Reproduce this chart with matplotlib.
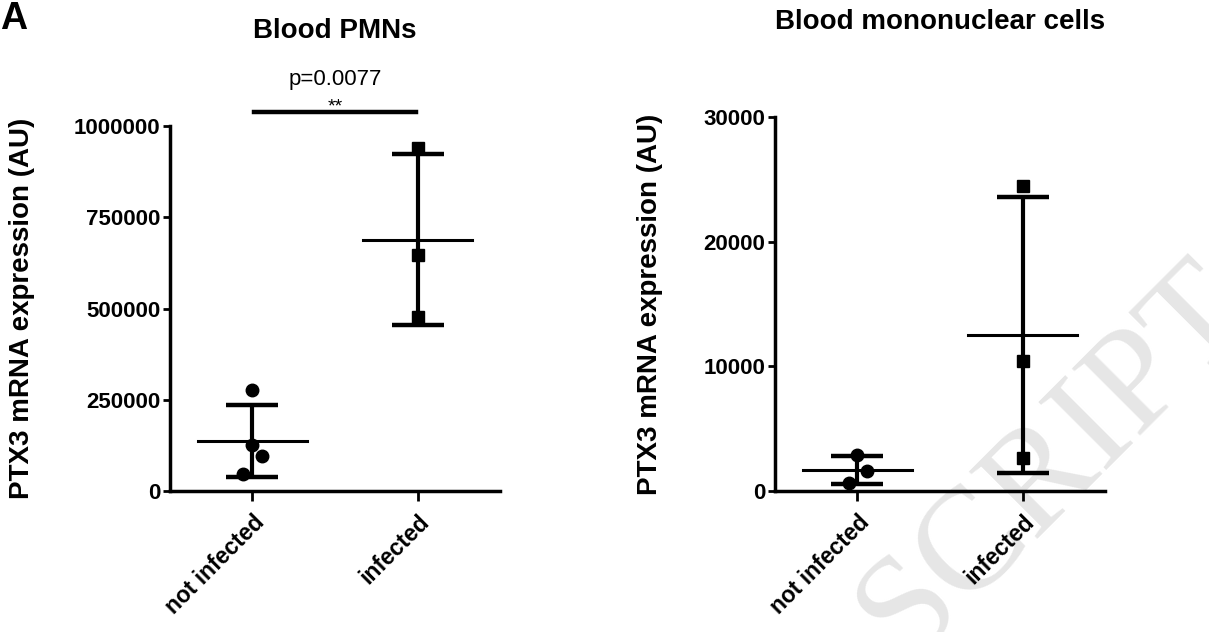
import matplotlib.pyplot as plt
import numpy as np

plt.rcParams['font.family'] = ['Liberation Sans', 'DejaVu Sans']

# Data
groups = ['not infected', 'infected']
pmn_not_infected = [277000, 126000, 96000, 47000]
pmn_infected = [940000, 647000, 477000]
mono_not_infected = [2850, 1620, 620]
mono_infected = [24500, 10400, 2680]

# small horizontal scatter of points (as in the original scatter plot)
pmn_jitter = [[0.0, 0.0, 0.055, -0.055], [0.0, 0.0, 0.0]]
mono_jitter = [[0.0, 0.055, -0.05], [0.0, 0.0, 0.0]]

pmn_ticks = [0, 250000, 500000, 750000, 1000000]
mono_ticks = [0, 10000, 20000, 30000]

fig = plt.figure(figsize=(12.09, 6.32), dpi=100)


def scatter_panel(ax, data, jitter, ticks, markers):
    for i, (vals, jit, m) in enumerate(zip(data, jitter, markers)):
        vals = np.array(vals)
        mean = vals.mean()
        sd = vals.std(ddof=1)
        ax.plot(i + np.array(jit), vals, linestyle='none', marker=m,
                markersize=9, color='black', zorder=3)
        # mean line
        ax.plot([i - 0.33, i + 0.33], [mean, mean], color='black', lw=2.2, zorder=2)
        # SD bar
        ax.errorbar(i, mean, yerr=sd, fmt='none', ecolor='black', elinewidth=3,
                    capsize=19, capthick=3.2, zorder=2)
    ax.set_facecolor('none')
    ax.set_xlim(-0.5, 1.5)
    ax.set_ylim(0, ticks[-1])
    ax.set_yticks(ticks)
    ax.set_yticklabels([str(t) for t in ticks], fontsize=16, fontweight='bold')
    ax.set_xticks([0, 1])
    ax.set_xticklabels(groups, rotation=45, ha='right', rotation_mode='anchor',
                       fontsize=16.5, fontweight='bold')
    for s in ['top', 'right']:
        ax.spines[s].set_visible(False)
    for s in ['left', 'bottom']:
        ax.spines[s].set_linewidth(2.5)
    ax.tick_params(axis='y', length=5, width=2, pad=2)
    ax.tick_params(axis='x', length=7, width=2, pad=7)
    ax.set_ylabel('PTX3 mRNA expression (AU)', fontsize=20, fontweight='bold')


# watermark, behind everything
fig.text(1055 / 1209, 1 - 462 / 632, 'SCRIPT', ha='center', va='center', rotation=45,
         rotation_mode='anchor', fontsize=105, family='Liberation Serif',
         color='#e6e6e6', zorder=-1)

ax1 = fig.add_axes([0.1406, 0.2231, 0.273, 0.5775])
scatter_panel(ax1, [pmn_not_infected, pmn_infected], pmn_jitter, pmn_ticks, ['o', 's'])
ax1.yaxis.set_label_coords(-0.41, 0.5)

# significance bar
ax1.plot([0.01, 0.99], [1037500, 1037500], color='black', lw=3.2, clip_on=False)
ax1.text(0.5, 1040000, '**', ha='center', va='baseline', fontsize=14, clip_on=False)
ax1.text(0.5, 1112000, 'p=0.0077', ha='center', va='baseline', fontsize=16, clip_on=False)

ax2 = fig.add_axes([0.641, 0.2231, 0.273, 0.5913])
scatter_panel(ax2, [mono_not_infected, mono_infected], mono_jitter, mono_ticks, ['o', 's'])
ax2.yaxis.set_label_coords(-0.34, 0.5)

fig.text(335 / 1209, 1 - 31 / 632, 'Blood PMNs', ha='center', va='center',
         fontsize=20, fontweight='bold')
fig.text(940 / 1209, 1 - 22 / 632, 'Blood mononuclear cells', ha='center', va='center',
         fontsize=20, fontweight='bold')
fig.text(0.0, 0.998, 'A', ha='left', va='top', fontsize=27, fontweight='bold')

plt.savefig('out.png', dpi=100)
